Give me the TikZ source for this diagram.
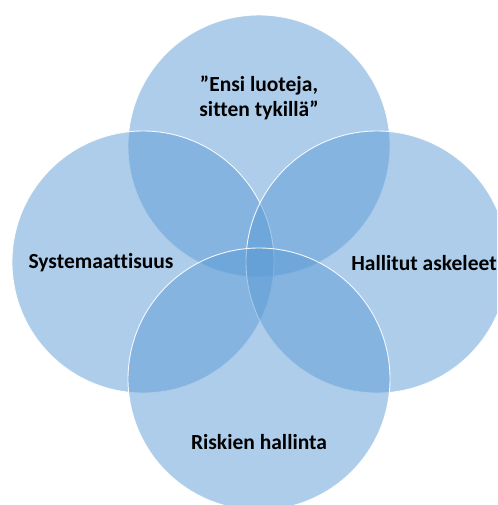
\documentclass[tikz,border=0pt]{standalone}
\usepackage{fontspec}
\setmainfont{Carlito}[Ligatures=NoCommon]
\definecolor{vennblue}{RGB}{91,155,213}
\begin{document}
\begin{tikzpicture}[x=1pt,y=-1pt,
  venn/.style={circle,minimum size=262pt,inner sep=0pt,fill=vennblue,fill opacity=0.5,draw=white,draw opacity=0.9,line width=0.9pt},
  lbl/.style={font=\bfseries\fontsize{21.5}{25}\selectfont,text=black,align=center}]
\useasboundingbox (0,0) rectangle (497,505);
\begin{scope}
\clip (0,0) rectangle (497,505);
\node[venn] (top) at (259,146) {};
\node[venn] (left) at (143,262) {};
\node[venn] (right) at (377,262) {};
\node[venn] (bottom) at (259,379) {};
\end{scope}
\node[lbl] (ttop) at (259,98) {”Ensi luoteja,\\sitten tykillä”};
\node[lbl] (tleft) at (101,263) {Systemaattisuus};
\node[lbl] (tright) at (424,263) {Hallitut askeleet};
\node[lbl] (tbottom) at (259,442) {Riskien hallinta};
\end{tikzpicture}
\end{document}
